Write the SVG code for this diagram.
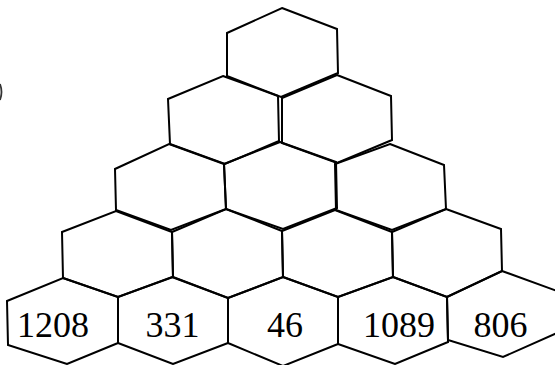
<svg xmlns="http://www.w3.org/2000/svg" width="555" height="365" viewBox="0 0 555 365">
<style>
.hex{fill:none;stroke:#000;stroke-width:2;stroke-linejoin:miter}
.lbl{font-family:"Liberation Serif","Times New Roman",serif;font-size:36px;fill:#000;text-anchor:middle}
</style>
<rect width="555" height="365" fill="#fff"/>
<path d="M0,84 Q3,92 0,100" fill="none" stroke="#333" stroke-width="1.8"/>
<g id="nodes">
<g id="h0"><polygon class="hex" points="282,8 337,29 338,73 281,97 227,76 227,33"/></g>
<g id="h1a"><polygon class="hex" points="223,76 278,96 279,141 225,164 170,144 168,99"/></g>
<g id="h1b"><polygon class="hex" points="337,75 391,96 392,140 337,163 282,143 282,98"/></g>
<g id="h2a"><polygon class="hex" points="169,144 224,164 226,209 171,230 116,210 115,169"/></g>
<g id="h2b"><polygon class="hex" points="280,142 336,162 337,208 283,229 226,209 224,164"/></g>
<g id="h2c"><polygon class="hex" points="390,144 444,165 446,209 392,230 336,210 335,164"/></g>
<g id="h3a"><polygon class="hex" points="116,211 172,232 173,277 118,297 63,278 62,232"/></g>
<g id="h3b"><polygon class="hex" points="226,209 282,231 283,277 228,298 173,277 172,232"/></g>
<g id="h3c"><polygon class="hex" points="335,210 392,232 393,277 338,297 283,277 282,231"/></g>
<g id="h3d"><polygon class="hex" points="446,209 501,229 502,271 447,297 393,277 392,232"/></g>
<g id="h4a"><polygon class="hex" points="63,278 118,297 118,343 67,364 8,345 7,301"/><text class="lbl" x="53" y="337">1208</text></g>
<g id="h4b"><polygon class="hex" points="172,277 228,298 228,343 173,364 118,343 118,297"/><text class="lbl" x="172.5" y="337">331</text></g>
<g id="h4c"><polygon class="hex" points="283,277 338,297 338,344 283,366 228,343 228,298"/><text class="lbl" x="285" y="337">46</text></g>
<g id="h4d"><polygon class="hex" points="393,277 447,297 448,342 395,364 338,344 338,297"/><text class="lbl" x="399" y="337">1089</text></g>
<g id="h4e"><polygon class="hex" points="502,271 557,291 557,333 503,357 448,340 447,297"/><text class="lbl" x="500.5" y="337">806</text></g>
</g>
<g id="connectors"/>
</svg>
